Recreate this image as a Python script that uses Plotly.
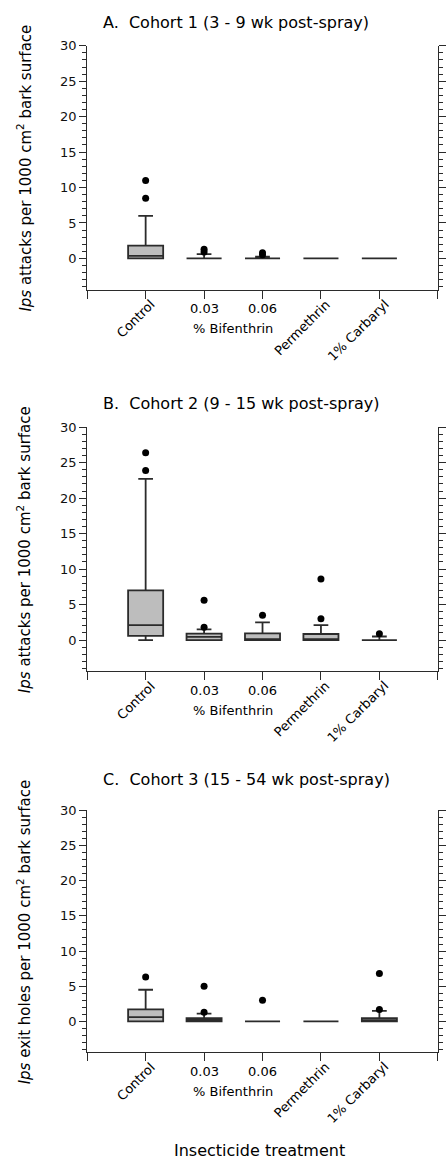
import plotly.graph_objects as go

W, H = 446, 1160

categories = ["Control", "0.03", "0.06", "Permethrin", "1% Carbaryl"]
positions = [1, 2, 3, 4, 5]

# Panel A: Cohort 1
a_q1 = [0, 0, 0, 0, 0]
a_median = [0.35, 0, 0, 0, 0]
a_q3 = [1.8, 0, 0, 0, 0]
a_lower = [0, 0, 0, 0, 0]
a_upper = [6.0, 0.6, 0.25, 0, 0]
a_out_x = [1, 1, 2, 2, 3, 3]
a_out_y = [8.5, 11.0, 0.9, 1.3, 0.5, 0.8]

# Panel B: Cohort 2
b_q1 = [0.6, 0, 0, 0, 0]
b_median = [2.1, 0.45, 0, 0, 0]
b_q3 = [7.0, 0.9, 0.95, 0.85, 0]
b_lower = [0, 0, 0, 0, 0]
b_upper = [22.7, 1.5, 2.5, 2.1, 0.5]
b_out_x = [1, 1, 2, 2, 3, 4, 4, 5]
b_out_y = [23.9, 26.4, 1.8, 5.6, 3.5, 3.0, 8.6, 0.9]

# Panel C: Cohort 3
c_q1 = [0, 0, 0, 0, 0]
c_median = [0.6, 0.2, 0, 0, 0.15]
c_q3 = [1.7, 0.45, 0, 0, 0.45]
c_lower = [0, 0, 0, 0, 0]
c_upper = [4.5, 1.1, 0, 0, 1.5]
c_out_x = [1, 2, 2, 3, 5, 5]
c_out_y = [6.3, 1.3, 5.0, 3.0, 1.7, 6.8]

titles = ["A.&nbsp; Cohort 1 (3 - 9 wk post-spray)",
          "B.&nbsp; Cohort 2 (9 - 15 wk post-spray)",
          "C.&nbsp; Cohort 3 (15 - 54 wk post-spray)"]
ytitles = ["<i>Ips</i> attacks per 1000 cm<sup>2</sup> bark surface",
           "<i>Ips</i> attacks per 1000 cm<sup>2</sup> bark surface",
           "<i>Ips</i> exit holes per 1000 cm<sup>2</sup> bark surface"]
xtitle = "Insecticide treatment"
group_label = "% Bifenthrin"

FONT = "DejaVu Sans"
LINE = "#2b2b2b"
FILL = "#bdbdbd"

# pixel layout
tops = [39, 422.7, 808.3]
bottoms = [284.3, 668.3, 1051.7]
title_y = [15.7, 399.3, 776.7]
x_left, x_right = 87.4, 438.8

def py(p):
    return 1 - p / H

fig = go.Figure()

panels = [
    (a_q1, a_median, a_q3, a_lower, a_upper, a_out_x, a_out_y),
    (b_q1, b_median, b_q3, b_lower, b_upper, b_out_x, b_out_y),
    (c_q1, c_median, c_q3, c_lower, c_upper, c_out_x, c_out_y),
]

annotations = []
layout = {}
for i, (q1, med, q3, lo, up, ox, oy) in enumerate(panels):
    sfx = "" if i == 0 else str(i + 1)
    xa, ya = "x" + sfx, "y" + sfx
    fig.add_trace(go.Box(
        x=positions, q1=q1, median=med, q3=q3, lowerfence=lo, upperfence=up,
        width=0.6, whiskerwidth=0.42, boxpoints=False,
        fillcolor=FILL, line=dict(color=LINE, width=1.8),
        xaxis=xa, yaxis=ya, showlegend=False))
    fig.add_trace(go.Scatter(
        x=ox, y=oy, mode="markers",
        marker=dict(color="black", size=7),
        xaxis=xa, yaxis=ya, showlegend=False))
    layout["xaxis" + sfx] = dict(
        domain=[x_left / W, x_right / W], anchor=ya, range=[0, 6],
        tickvals=[0, 1, 2, 3, 4, 5, 6], showticklabels=False,
        ticks="outside", ticklen=8, tickcolor=LINE, tickwidth=1,
        showline=True, linecolor=LINE, linewidth=1,
        showgrid=False, zeroline=False, fixedrange=True)
    layout["yaxis" + sfx] = dict(
        domain=[py(bottoms[i]), py(tops[i])], anchor=xa, range=[-4.4, 30],
        tick0=0, dtick=5, ticks="outside", ticklen=7, tickcolor=LINE,
        tickwidth=1, showline=True, linecolor=LINE, linewidth=1,
        mirror="ticks", showgrid=False, zeroline=False,
        tickfont=dict(family=FONT, size=13, color="#111"),
        minor=dict(dtick=1, tick0=0, ticks="outside", ticklen=4,
                   tickcolor=LINE, tickwidth=1, showgrid=False),
        fixedrange=True)
    # panel title
    annotations.append(dict(
        text=titles[i], x=101 / W, y=py(title_y[i]), xref="paper", yref="paper",
        xanchor="left", yanchor="middle", showarrow=False,
        font=dict(family=FONT, size=16, color="black")))
    # y title
    annotations.append(dict(
        text=ytitles[i], x=24 / W, y=py((tops[i] + bottoms[i]) / 2),
        xref="paper", yref="paper", xanchor="center", yanchor="middle",
        textangle=-90, showarrow=False,
        font=dict(family=FONT, size=15, color="black")))
    # category labels
    ybot = py(bottoms[i])
    for pos, cat in zip(positions, categories):
        if cat in ("0.03", "0.06"):
            annotations.append(dict(
                text=cat, x=pos, y=ybot, xref=xa, yref="paper",
                xanchor="center", yanchor="middle", yshift=-19,
                showarrow=False, font=dict(family=FONT, size=13, color="black")))
        else:
            annotations.append(dict(
                text=cat, x=pos, y=ybot, xref=xa, yref="paper",
                xanchor="right", yanchor="top", xshift=15, yshift=-4,
                textangle=-45, showarrow=False,
                font=dict(family=FONT, size=13, color="black")))
    annotations.append(dict(
        text=group_label, x=2.5, y=ybot, xref=xa, yref="paper",
        xanchor="center", yanchor="middle", yshift=-39,
        showarrow=False, font=dict(family=FONT, size=13, color="black")))

annotations.append(dict(
    text=xtitle, x=260 / W, y=py(1150.5), xref="paper", yref="paper",
    xanchor="center", yanchor="middle", showarrow=False,
    font=dict(family=FONT, size=16, color="black")))

fig.update_layout(
    width=W, height=H, margin=dict(l=0, r=0, t=0, b=0),
    paper_bgcolor="white", plot_bgcolor="white",
    annotations=annotations, showlegend=False, **layout)

fig.write_html("out.html")
